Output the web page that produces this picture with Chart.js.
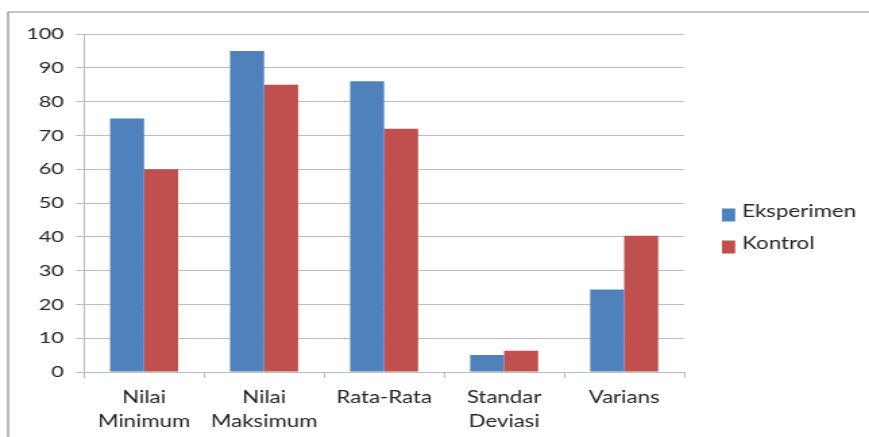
<!DOCTYPE html>
<html>
<head>
<meta charset="utf-8">
<script src="https://cdn.jsdelivr.net/npm/chart.js@4/dist/chart.umd.min.js"></script>
<style>
  html, body { margin: 0; padding: 0; background: #fff; overflow: hidden; }
  /* The chart is laid out on a narrower canvas and widened to the page width */
  #wrap { position: absolute; left: 0; top: 0; width: 644px; height: 437px;
          transform: scaleX(1.3494); transform-origin: 0 0; }
</style>
</head>
<body>
<div id="wrap"><canvas id="c"></canvas></div>
<script>
const categories = [["Nilai", "Minimum"], ["Nilai", "Maksimum"], "Rata-Rata", ["Standar", "Deviasi"], "Varians"];
const eksperimen = [75, 95, 86, 5.0, 24.4];
const kontrol = [60, 85, 72, 6.3, 40.3];
const yTicks = [0, 10, 20, 30, 40, 50, 60, 70, 80, 90, 100];

const FONT = "Lato";
const GRID = "#bcbcbc";
const TEXT = "#262626";

// Frame lines along the top and left edge
const framePlugin = {
  id: "frame",
  beforeDraw(chart) {
    const ctx = chart.ctx;
    ctx.save();
    ctx.fillStyle = "#ffffff";
    ctx.fillRect(0, 0, chart.width, chart.height);
    ctx.strokeStyle = "#8c8c8c";
    ctx.lineWidth = 1.2;
    ctx.beginPath();
    ctx.moveTo(6, chart.height);
    ctx.lineTo(6, 12);
    ctx.lineTo(chart.width, 12);
    ctx.stroke();
    ctx.restore();
  }
};

// Legend to the right of the plot
const sideLegend = {
  id: "sideLegend",
  afterDraw(chart) {
    const ctx = chart.ctx;
    const x = chart.chartArea.right + 28;
    const rows = [215, 247];
    ctx.save();
    ctx.font = "16.5px " + FONT;
    ctx.textBaseline = "middle";
    chart.data.datasets.forEach((ds, i) => {
      const y = rows[i];
      ctx.fillStyle = ds.backgroundColor;
      ctx.fillRect(x, y - 6.5, 9.8, 13);
      ctx.fillStyle = TEXT;
      ctx.fillText(ds.label, x + 15, y - 3);
    });
    ctx.restore();
  }
};

new Chart(document.getElementById("c"), {
  type: "bar",
  data: {
    labels: categories,
    datasets: [
      { label: "Eksperimen", data: eksperimen, backgroundColor: "#4f81bd" },
      { label: "Kontrol", data: kontrol, backgroundColor: "#c0504d" }
    ]
  },
  options: {
    responsive: true,
    maintainAspectRatio: false,
    animation: false,
    layout: { padding: { left: 0, right: 137, top: 34, bottom: 0 } },
    plugins: { legend: { display: false }, tooltip: { enabled: false } },
    datasets: { bar: { categoryPercentage: 0.567, barPercentage: 1.0 } },
    scales: {
      x: {
        afterFit(scale) { scale.height = 65; },
        grid: { display: true, drawOnChartArea: false, drawTicks: true, tickLength: 6, color: GRID, offset: true },
        border: { display: true, color: GRID, width: 1 },
        ticks: { font: { family: FONT, size: 16.5, lineHeight: 1.45 }, color: TEXT, padding: 8, maxRotation: 0, autoSkip: false }
      },
      y: {
        min: 0,
        max: 100,
        afterFit(scale) { scale.width = 62.3; },
        afterBuildTicks(scale) { scale.ticks = yTicks.map(v => ({ value: v })); },
        grid: { color: GRID, lineWidth: 1, tickLength: 6, drawTicks: true },
        border: { display: true, color: GRID, width: 1 },
        ticks: { font: { family: FONT, size: 16 }, color: TEXT, padding: 9 }
      }
    }
  },
  plugins: [framePlugin, sideLegend]
});
</script>
</body>
</html>
